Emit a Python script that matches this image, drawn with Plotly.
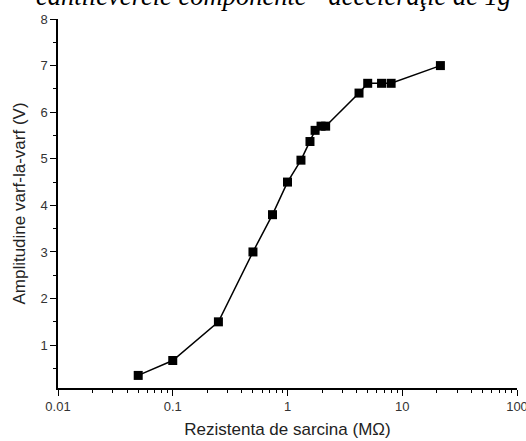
import plotly.graph_objects as go

# Load resistance (MOhm) and peak-to-peak amplitude (V)
rezistenta = [0.05, 0.1, 0.25, 0.5, 0.74, 1.0, 1.31, 1.57, 1.74, 1.96, 2.15, 4.2, 5.0, 6.6, 8.0, 21.5]
amplitudine = [0.35, 0.67, 1.5, 3.0, 3.8, 4.5, 4.97, 5.37, 5.61, 5.70, 5.70, 6.41, 6.62, 6.62, 6.62, 7.0]

x_tick_vals = [0.01, 0.1, 1, 10, 100]
x_tick_text = ["0.01", "0.1", "1", "10", "100"]
y_tick_vals = [1, 2, 3, 4, 5, 6, 7, 8]

x_minor = [m * d for d in (0.01, 0.1, 1, 10) for m in range(2, 10)]
y_minor = [0.5 + i for i in range(8)]

fig = go.Figure()
fig.add_trace(go.Scatter(
    x=rezistenta, y=amplitudine, mode="lines+markers",
    line=dict(color="black", width=1.5),
    marker=dict(symbol="square", size=9, color="black"),
    showlegend=False,
))

font_ax = "Liberation Sans, Arial, sans-serif"
fig.update_layout(
    width=526, height=441,
    margin=dict(l=58, r=9, t=19, b=53),
    paper_bgcolor="white", plot_bgcolor="white",
    font=dict(family=font_ax, color="#222"),
    xaxis=dict(
        type="log", range=[-2, 2],
        tickvals=x_tick_vals, ticktext=x_tick_text,
        ticks="outside", ticklen=6, tickwidth=1.2, tickcolor="black",
        showline=True, linecolor="black", linewidth=1.5,
        showgrid=False, zeroline=False,
        automargin=False, ticklabeloverflow="allow",
        tickfont=dict(size=13, color="#333"),
        minor=dict(tickvals=x_minor, ticks="outside", ticklen=3, tickwidth=1, tickcolor="black", showgrid=False),
        title=dict(text="Rezistenta de sarcina (MΩ)", font=dict(size=17, color="#222"), standoff=10),
    ),
    yaxis=dict(
        range=[0.08, 8],
        tickvals=y_tick_vals,
        ticks="outside", ticklen=6, tickwidth=1.2, tickcolor="black",
        showline=True, linecolor="black", linewidth=1.5,
        showgrid=False, zeroline=False,
        automargin=False, ticklabeloverflow="allow",
        tickfont=dict(size=13, color="#333"),
        minor=dict(tickvals=y_minor, ticks="outside", ticklen=3, tickwidth=1, tickcolor="black", showgrid=False),
        title=dict(text="Amplitudine varf-la-varf (V)", font=dict(size=17, color="#222"), standoff=10),
    ),
)

fig.add_annotation(
    text="cantileverele componente - acceleraţie de 1g",
    xref="paper", yref="paper", x=0.469, y=1.015,
    xanchor="center", yanchor="bottom", showarrow=False,
    font=dict(family="Liberation Serif, Times New Roman, serif", size=26.5,
              color="black", style="italic"),
)

fig.write_html("out.html")
